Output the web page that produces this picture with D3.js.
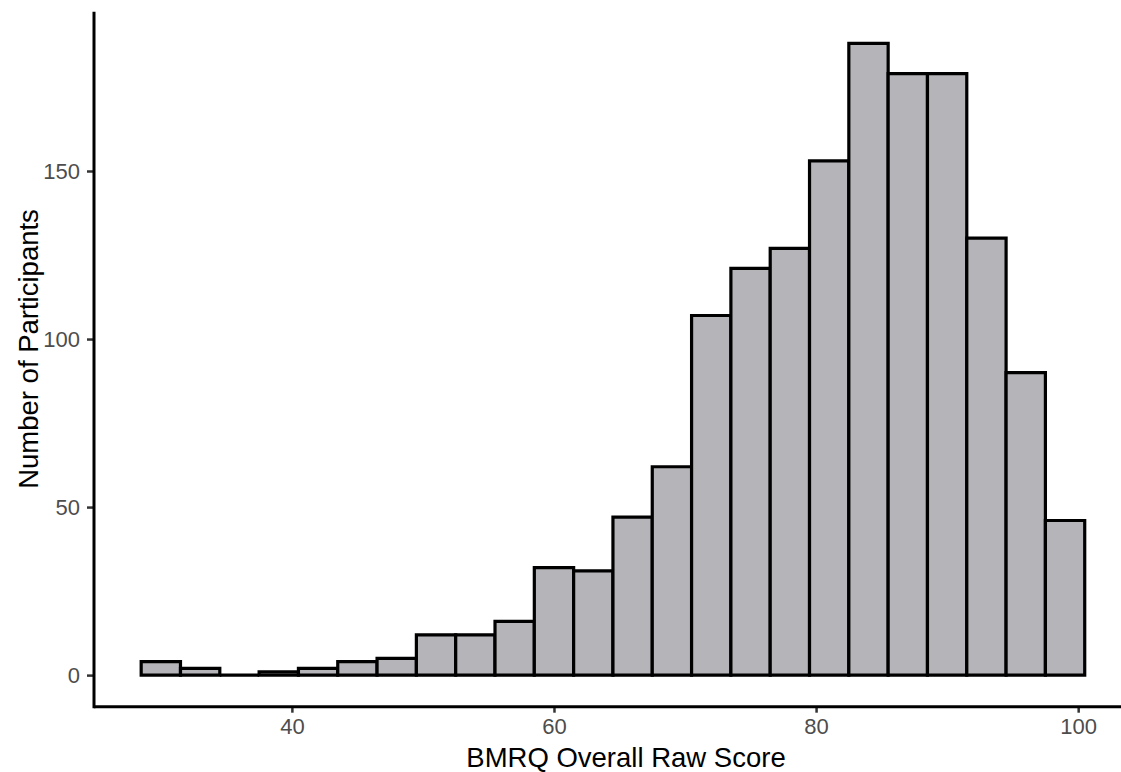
<!DOCTYPE html>
<html><head><meta charset="utf-8">
<script src="https://cdn.jsdelivr.net/npm/d3@7"></script>
<style>body{margin:0;background:#fff}svg{display:block}</style>
</head><body>
<svg id="c" width="1121" height="772"></svg>
<script>
// Histogram bins (binwidth 3, centred on 30 ... 99)
const binStarts = [28.5,31.5,34.5,37.5,40.5,43.5,46.5,49.5,52.5,55.5,58.5,61.5,64.5,67.5,70.5,73.5,76.5,79.5,82.5,85.5,88.5,91.5,94.5,97.5];
const binWidth = 3;
const counts = [4,2,0,1,2,4,5,12,12,16,32,31,47,62,107,121,127,153,188,179,179,130,90,46];
const xTicks = [40,60,80,100];
const yTicks = [0,50,100,150];
const xTitle = "BMRQ Overall Raw Score";
const yTitle = "Number of Participants";

const svg = d3.select("#c");
const font = "'Liberation Sans', Arial, Helvetica, sans-serif";
const x = d3.scaleLinear().domain([24.9, 104.1]).range([94, 1131.9]);
const y = d3.scaleLinear().domain([-9.4, 197.4]).range([706.7, 11.7]);

const data = binStarts.map((s,i)=>({x0:s, x1:s+binWidth, n:counts[i]}));
svg.append("g").selectAll("path").data(data).join("path")
  .attr("d", d=>{
    const l=x(d.x0), r=x(d.x1), t=y(d.n), b=y(0);
    return `M${l},${b}L${l},${t}L${r},${t}L${r},${b}Z`;
  })
  .attr("fill", "#b4b4b9").attr("stroke", "#000").attr("stroke-width", 3.2).attr("stroke-linejoin","miter");

// axes
const xAxis = svg.append("g").attr("transform", `translate(0,${y.range()[0]})`)
  .call(d3.axisBottom(x).tickValues(xTicks).tickSize(6).tickPadding(6).tickFormat(d3.format("d")));
const yAxis = svg.append("g").attr("transform", `translate(${x.range()[0]},0)`)
  .call(d3.axisLeft(y).tickValues(yTicks).tickSize(7).tickPadding(7).tickFormat(d3.format("d")));
[xAxis,yAxis].forEach(g=>{
  g.select(".domain").remove();
  g.selectAll(".tick line").attr("stroke","#333").attr("stroke-width",2.5);
  g.selectAll(".tick text").attr("fill","#4d4d4d").style("font-family",font).style("font-size","22px");
});
svg.append("line").attr("x1",x.range()[0]).attr("x2",x.range()[1]).attr("y1",y.range()[0]).attr("y2",y.range()[0])
  .attr("stroke","#000").attr("stroke-width",3);
svg.append("line").attr("x1",x.range()[0]).attr("x2",x.range()[0]).attr("y1",y.range()[0]+1.5).attr("y2",y.range()[1])
  .attr("stroke","#000").attr("stroke-width",3);

svg.append("text").attr("x", 626).attr("y", 767).attr("text-anchor","middle")
  .style("font-family",font).style("font-size","27.5px").attr("fill","#000").text(xTitle);
svg.append("text").attr("transform","translate(38,349) rotate(-90)").attr("text-anchor","middle")
  .style("font-family",font).style("font-size","27.5px").attr("fill","#000").text(yTitle);
</script>
</body></html>
